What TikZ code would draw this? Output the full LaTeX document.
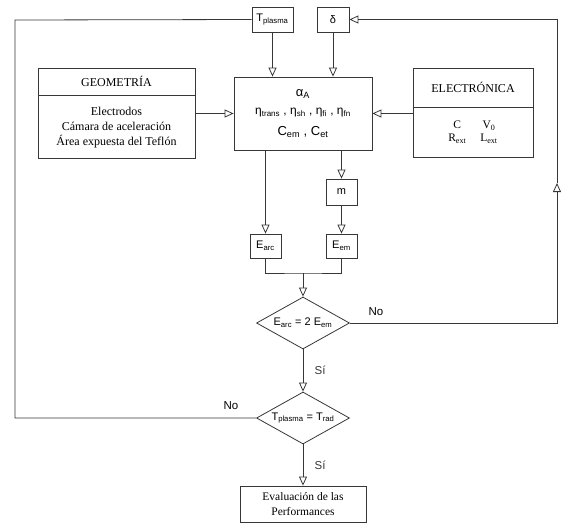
\documentclass[tikz,border=0pt]{standalone}
\usepackage{fontspec}
\setmainfont{Liberation Serif}
\setsansfont{Liberation Sans}
\usepackage{tikz}
\usetikzlibrary{shapes.geometric, arrows.meta, positioning, calc}
\definecolor{mydark}{RGB}{55,55,55}
\newcommand{\sbs}[1]{\textsubscript{#1}}
\tikzset{
  block/.style={rectangle, draw=mydark, fill=white, align=center,
    inner sep=0pt, line width=0.8pt, font=\sffamily\fontsize{11}{13}\selectfont},
  serifblock/.style={rectangle, draw=mydark, fill=white, align=center,
    inner sep=0pt, line width=0.8pt, font=\rmfamily\fontsize{12}{15}\selectfont},
  decision/.style={diamond, draw=mydark, fill=white, aspect=1.8,
    minimum width=93pt, minimum height=52pt, inner sep=0pt,
    line width=0.8pt, font=\sffamily\fontsize{11}{13}\selectfont},
  arrow/.style={-{Triangle[open, length=9pt, width=8pt]}, line width=0.8pt, color=mydark},
  line/.style={line width=0.8pt, color=mydark},
  lbl/.style={font=\sffamily\fontsize{11.5}{13}\selectfont}
}

\begin{document}
\begin{tikzpicture}[x=1pt, y=-1pt]
  \useasboundingbox (0,0) rectangle (563,523);

  % Parameters on top
  \node[block, minimum width=41pt, minimum height=25pt] (tplasma) at (272.5,19.5) {T\sbs{plasma}};
  \node[block, minimum width=32pt, minimum height=25pt] (delta) at (333,19.5) {δ};

  % Central block
  \node[block, minimum width=138pt, minimum height=73pt] (central) at (303,113.5)
    {{\fontsize{13}{15}\selectfont α\sbs{A}}\\[5pt]
     {\fontsize{12}{14}\selectfont η\sbs{trans} , η\sbs{sh} , η\sbs{fi} , η\sbs{fn}}\\[8pt]
     {\fontsize{13}{15}\selectfont C\sbs{em} , C\sbs{et}}};

  % Geometry block
  \node[serifblock, minimum width=157pt, minimum height=27pt] (geomhead) at (116.5,81.5) {GEOMETRÍA};
  \node[serifblock, minimum width=157pt, minimum height=63pt, anchor=north] (geombody) at (geomhead.south)
    {Electrodos\\Cámara de aceleración\\Área expuesta del Teflón};

  % Electronics block
  \node[serifblock, minimum width=120pt, minimum height=39pt] (elechead) at (473,87.5) {ELECTRÓNICA};
  \node[serifblock, minimum width=120pt, minimum height=50pt, anchor=north, font=\rmfamily\fontsize{11.5}{13}\selectfont] (elecbody) at (elechead.south)
    {\begin{tabular}{@{}c@{\hspace{14pt}}c@{}}C & V\sbs{0}\\ R\sbs{ext} & L\sbs{ext}\end{tabular}};

  % Energies
  \node[block, minimum width=31pt, minimum height=26pt] (mass) at (341.5,192) {m};
  \node[block, minimum width=31pt, minimum height=24pt] (earc) at (265.5,246) {E\sbs{arc}};
  \node[block, minimum width=31pt, minimum height=24pt] (eem) at (341.5,246) {E\sbs{em}};
  \coordinate (join) at (303,273);

  % Decisions
  \node[decision] (dec1) at (303,323) {E\sbs{arc} = 2 E\sbs{em}};
  \node[decision] (dec2) at (303,418) {T\sbs{plasma} = T\sbs{rad}};
  \node[serifblock, minimum width=126pt, minimum height=36pt, font=\rmfamily\fontsize{11.5}{15}\selectfont] (eval) at (303,504)
    {Evaluación de las\\Performances};

  % Loop corners
  \coordinate (ltop) at (15,20);
  \coordinate (rmid) at (557,183);

  % Connectors
  \draw[arrow] (tplasma.south) -- (tplasma.south |- central.north);
  \draw[arrow] (delta.south) -- (delta.south |- central.north);
  \draw[arrow] (geombody.east |- central.west) -- (central.west);
  \draw[arrow] (elecbody.west |- central.east) -- (central.east);
  \draw[arrow] (central.south -| mass) -- (mass.north);
  \draw[arrow] (central.south -| earc) -- (earc.north);
  \draw[arrow] (mass.south) -- (eem.north);
  \draw[line] (earc.south) |- (join) -| (eem.south);
  \draw[arrow] (join) -- (dec1.north);
  \draw[arrow] (dec1.south) -- node[lbl, right=8pt] {Sí} (dec2.north);
  \draw[arrow] (dec2.south) -- node[lbl, right=8pt] {Sí} (eval.north);

  % Feedback loops
  \draw[arrow] (dec1.east) -| (rmid);
  \draw[arrow] (rmid) |- (delta.east);
  \draw[line] (dec2.west) -| (ltop) -- (tplasma.west);
  \node[lbl] (no1) at (376,312) {No};
  \node[lbl] (no2) at (231,406) {No};
\end{tikzpicture}
\end{document}
